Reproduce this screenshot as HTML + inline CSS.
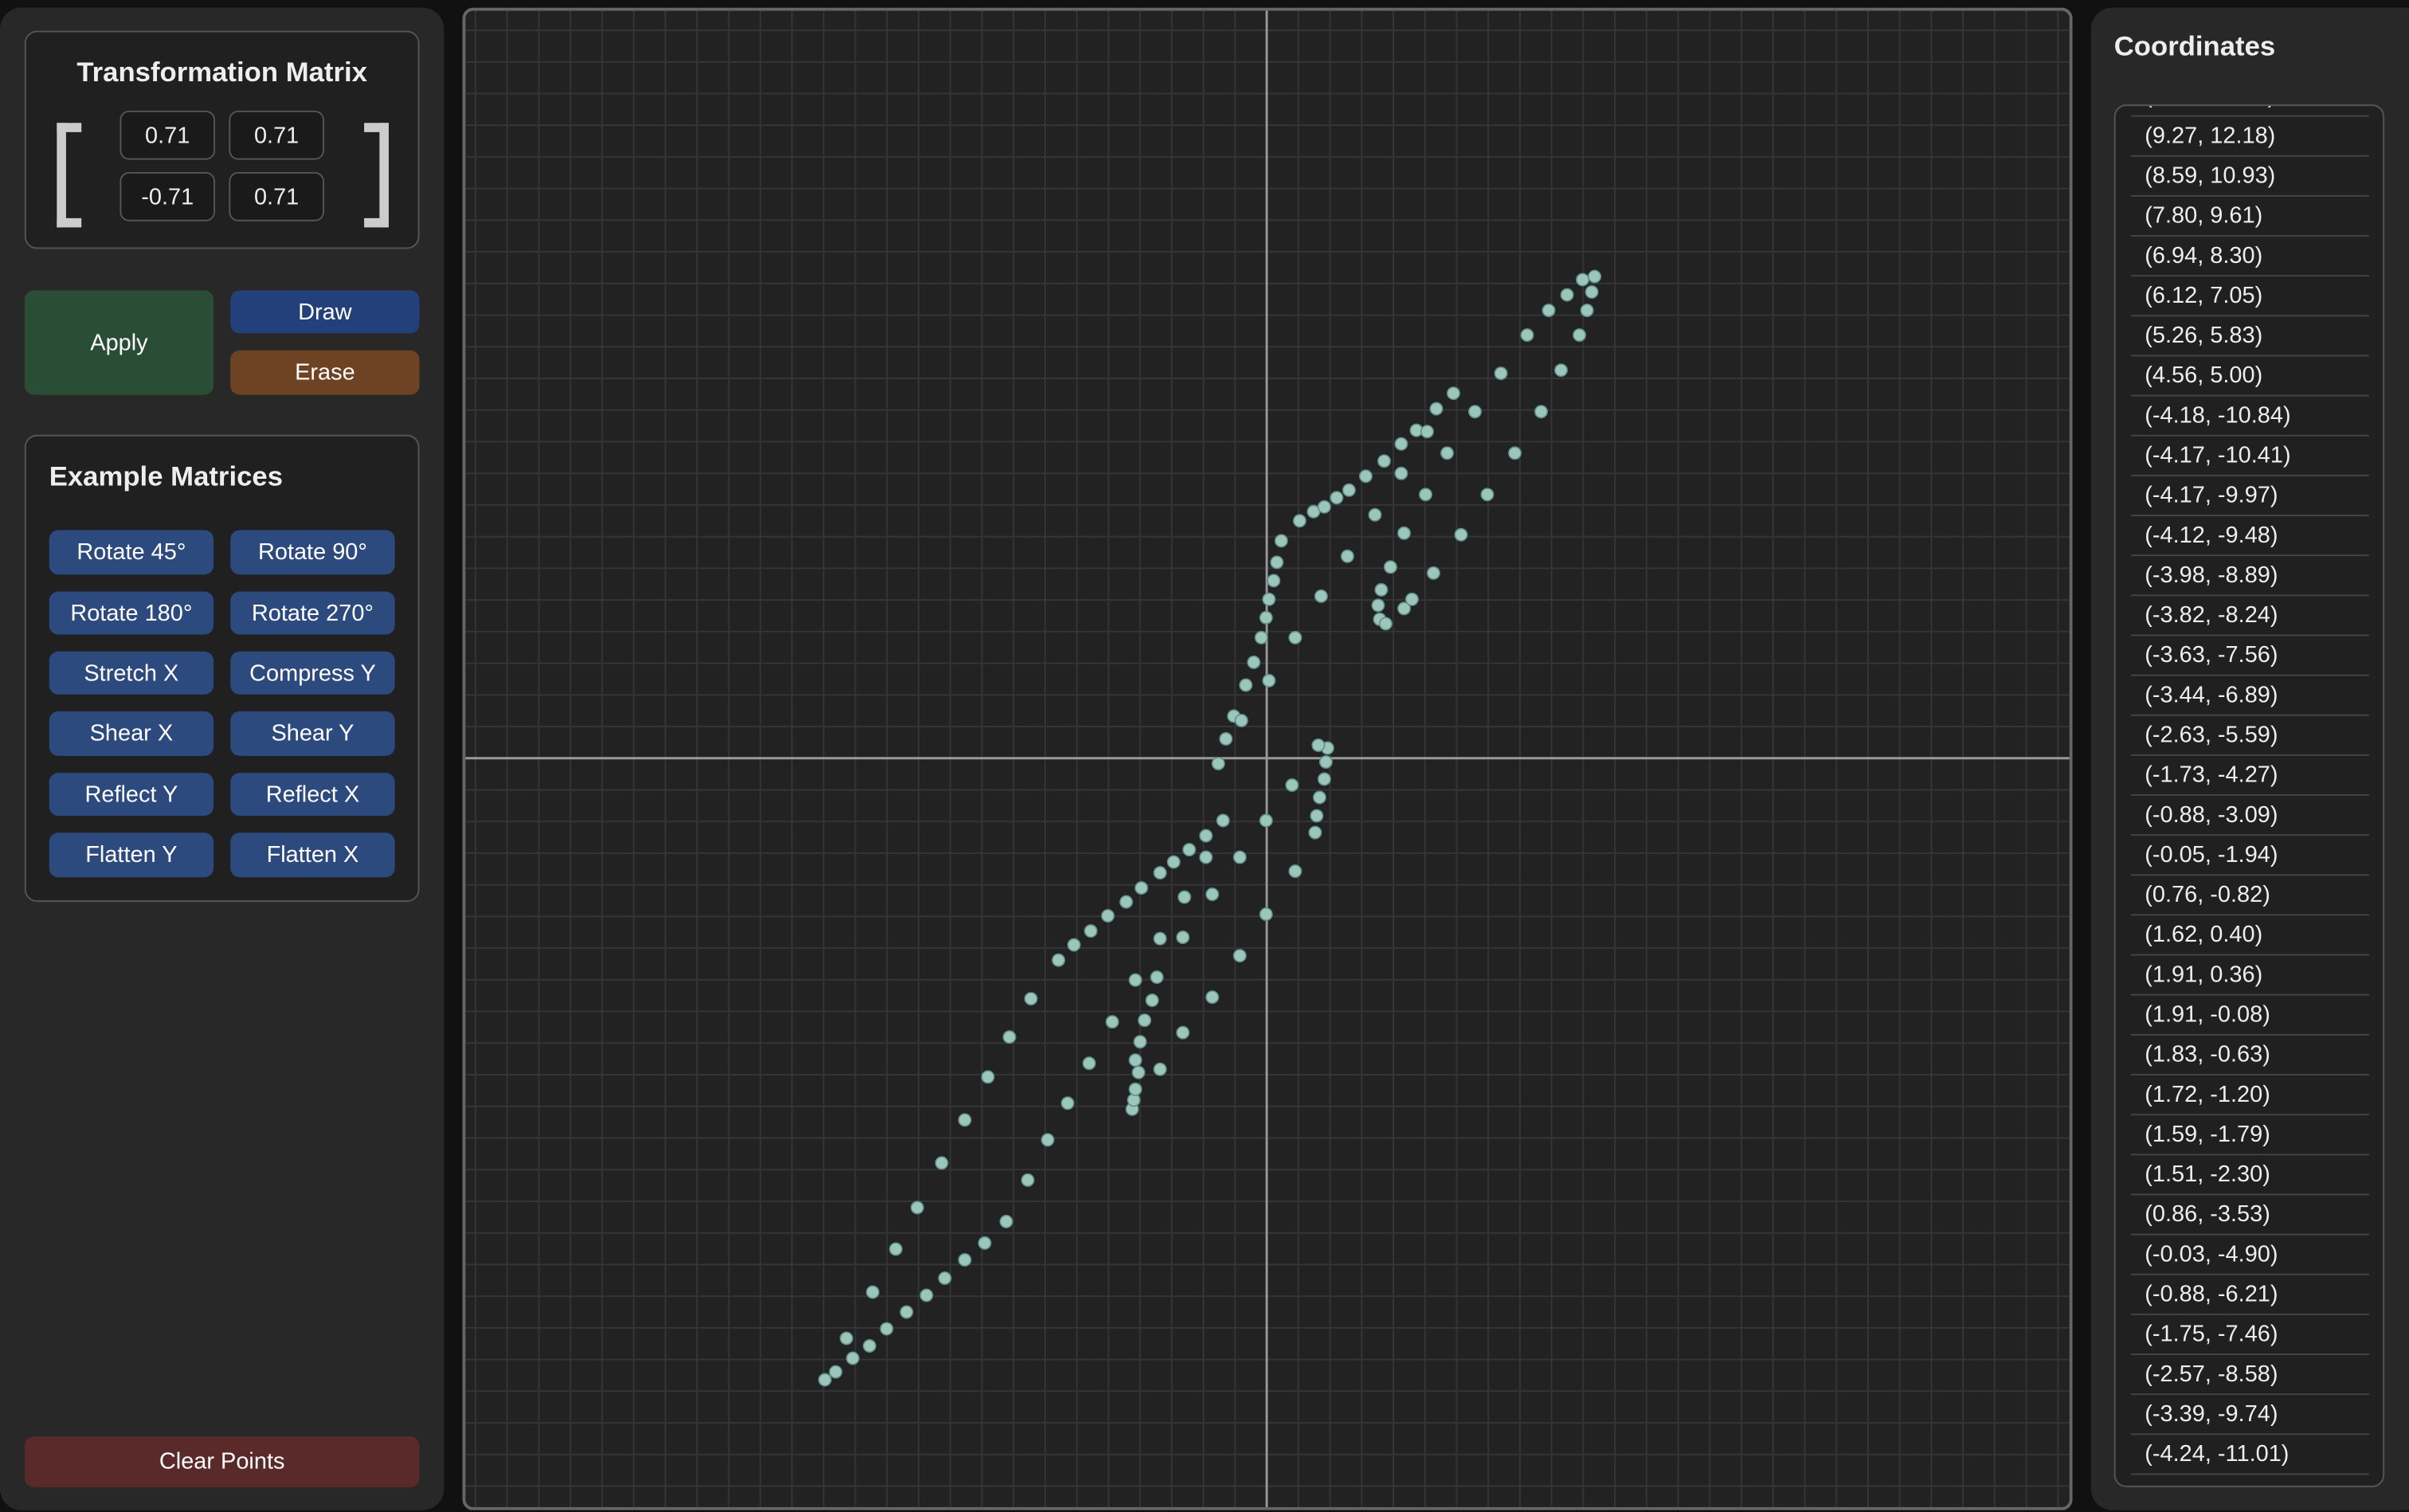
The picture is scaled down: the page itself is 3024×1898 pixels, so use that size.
<!DOCTYPE html>
<html><head><meta charset="utf-8">
<style>
html,body{margin:0;padding:0;background:#111;width:3024px;height:1898px;overflow:hidden;font-family:"Liberation Sans",Arial,sans-serif;}
#wrap{position:absolute;left:0;top:0;width:1568px;height:984px;transform:scale(1.92857);transform-origin:0 0;}
.abs{position:absolute;box-sizing:border-box;}
.panel{background:#282828;border-radius:14px;}
.box{background:#202020;border:1px solid #555;border-radius:8px;}
.btn{color:#fff;font-size:15px;display:flex;align-items:center;justify-content:center;border-radius:6px;}
.ex{background:#2c4a7e;}
.inp{background:#1a1a1a;border:1px solid #555;border-radius:6px;color:#eee;font-size:15px;display:flex;align-items:center;justify-content:center;width:62px;height:32px;}
.title{color:#eee;font-weight:bold;font-size:18px;}
.row{position:absolute;left:10px;width:155px;height:26px;border-bottom:1px solid #444;color:#eee;font-size:15px;line-height:26px;padding-left:9px;box-sizing:border-box;}
</style></head><body>
<div id="wrap">
<div class="abs panel" style="left:0;top:5px;width:289px;height:978px;"></div>
<div class="abs box" style="left:16px;top:20px;width:257px;height:142px;"></div>
<div class="abs title" style="left:16px;top:37px;width:257px;text-align:center;">Transformation Matrix</div>
<div class="abs" style="left:37px;top:80px;width:16px;height:68px;border:6px solid #ccc;border-right:none;"></div>
<div class="abs" style="left:237px;top:80px;width:16px;height:68px;border:6px solid #ccc;border-left:none;"></div>
<div class="abs inp" style="left:78px;top:72px;">0.71</div>
<div class="abs inp" style="left:149px;top:72px;">0.71</div>
<div class="abs inp" style="left:78px;top:112px;">-0.71</div>
<div class="abs inp" style="left:149px;top:112px;">0.71</div>
<div class="abs btn" style="left:16px;top:189px;width:123px;height:68px;background:#2a4d35;">Apply</div>
<div class="abs btn" style="left:150px;top:189px;width:123px;height:28px;background:#23407a;">Draw</div>
<div class="abs btn" style="left:150px;top:228px;width:123px;height:29px;background:#6e4323;">Erase</div>
<div class="abs box" style="left:16px;top:283px;width:257px;height:304px;"></div>
<div class="abs title" style="left:32px;top:300px;">Example Matrices</div>
<div class="abs btn ex" style="left:32px;top:345px;width:107px;height:29px;">Rotate 45°</div>
<div class="abs btn ex" style="left:150px;top:345px;width:107px;height:29px;">Rotate 90°</div>
<div class="abs btn ex" style="left:32px;top:385px;width:107px;height:28px;">Rotate 180°</div>
<div class="abs btn ex" style="left:150px;top:385px;width:107px;height:28px;">Rotate 270°</div>
<div class="abs btn ex" style="left:32px;top:424px;width:107px;height:28px;">Stretch X</div>
<div class="abs btn ex" style="left:150px;top:424px;width:107px;height:28px;">Compress Y</div>
<div class="abs btn ex" style="left:32px;top:463px;width:107px;height:29px;">Shear X</div>
<div class="abs btn ex" style="left:150px;top:463px;width:107px;height:29px;">Shear Y</div>
<div class="abs btn ex" style="left:32px;top:503px;width:107px;height:28px;">Reflect Y</div>
<div class="abs btn ex" style="left:150px;top:503px;width:107px;height:28px;">Reflect X</div>
<div class="abs btn ex" style="left:32px;top:542px;width:107px;height:29px;">Flatten Y</div>
<div class="abs btn ex" style="left:150px;top:542px;width:107px;height:29px;">Flatten X</div>
<div class="abs btn" style="left:16px;top:935px;width:257px;height:33px;background:#5a2a2a;">Clear Points</div>

<svg class="abs" id="plot" style="left:301px;top:5px;" width="1048" height="978" viewBox="0 0 1048 978">
<rect x="1" y="1" width="1046" height="976" rx="6" fill="#222" stroke="#666" stroke-width="2"/>
<g id="grid"></g><g id="axes"></g><g id="dots"></g>
</svg>

<div class="abs panel" style="left:1361px;top:5px;width:220px;height:978px;"></div>
<div class="abs title" style="left:1376px;top:20px;">Coordinates</div>
<div class="abs box" id="list" style="left:1376px;top:68px;width:176px;height:900px;overflow:hidden;"></div>
</div>
<script>
const xs=[-13.96,-13.62,-13.08,-13.28,-12.55,-12.01,-12.45,-11.38,-10.75,-11.72,-10.17,-9.54,-11.04,-8.91,-8.23,-10.27,-7.55,-9.54,-6.92,-8.81,-6.29,-8.13,-5.61,-7.45,-4.88,-6.58,-4.25,-4.20,-4.15,-4.05,-4.15,-4.00,-3.86,-3.62,-4.15,-3.47,-3.37,-2.65,-1.72,-0.85,-6.09,-5.56,-5.02,-4.44,-3.96,-3.37,-2.94,-2.45,-1.92,-1.38,-1.92,-0.85,-2.60,-1.72,-3.37,-2.65,-0.02,-0.02,0.90,0.80,1.53,1.58,1.67,1.82,1.87,1.92,1.63,-1.53,-1.29,-1.04,-0.80,-0.66,-0.41,-0.17,-0.02,0.07,0.22,0.32,0.46,0.07,0.90,1.04,1.48,1.82,2.21,2.60,3.13,3.71,4.25,4.73,5.07,5.36,5.90,6.58,5.70,4.25,3.42,2.55,1.72,5.02,4.34,3.91,3.62,3.52,3.57,3.76,4.34,4.59,5.27,6.14,6.97,7.84,8.67,9.30,9.88,10.12,10.27,10.36,9.98,9.49,8.91,8.23,7.40];
const ys=[-19.64,-19.39,-18.96,-18.33,-18.57,-18.03,-16.87,-17.50,-16.97,-15.51,-16.43,-15.85,-14.20,-15.32,-14.64,-12.79,-13.33,-11.43,-12.06,-10.07,-10.90,-8.81,-9.64,-7.60,-8.33,-6.38,-11.09,-10.80,-10.46,-9.93,-9.54,-8.96,-8.28,-7.65,-7.01,-6.92,-9.83,-8.67,-7.55,-6.24,-5.90,-5.46,-4.98,-4.54,-4.10,-3.62,-3.28,-2.89,-2.45,-1.97,-3.13,-3.13,-4.39,-4.30,-5.70,-5.66,-1.97,-4.93,-3.57,-0.85,-2.35,-1.82,-1.24,-0.66,-0.12,0.32,0.41,-0.17,0.61,1.33,1.19,2.31,3.03,3.81,4.44,5.02,5.61,6.19,6.87,2.45,3.81,7.50,7.79,7.94,8.23,8.47,8.91,9.39,9.93,10.36,10.32,11.04,11.53,10.95,9.64,9.00,7.69,6.38,5.12,8.33,7.11,6.04,5.32,4.83,4.39,4.25,4.73,5.02,5.85,7.06,8.33,9.64,10.95,12.26,13.37,14.15,14.73,15.22,15.12,14.64,14.15,13.37,12.16];
const coordLabels=["(9.99, 13.40)","(9.27, 12.18)","(8.59, 10.93)","(7.80, 9.61)","(6.94, 8.30)","(6.12, 7.05)","(5.26, 5.83)","(4.56, 5.00)","(-4.18, -10.84)","(-4.17, -10.41)","(-4.17, -9.97)","(-4.12, -9.48)","(-3.98, -8.89)","(-3.82, -8.24)","(-3.63, -7.56)","(-3.44, -6.89)","(-2.63, -5.59)","(-1.73, -4.27)","(-0.88, -3.09)","(-0.05, -1.94)","(0.76, -0.82)","(1.62, 0.40)","(1.91, 0.36)","(1.91, -0.08)","(1.83, -0.63)","(1.72, -1.20)","(1.59, -1.79)","(1.51, -2.30)","(0.86, -3.53)","(-0.03, -4.90)","(-0.88, -6.21)","(-1.75, -7.46)","(-2.57, -8.58)","(-3.39, -9.74)","(-4.24, -11.01)"];
const NS="http://www.w3.org/2000/svg";
const W=1048,H=978,OX=523.5,OY=488.5,UNIT=20.6;
function sx(v){return OX+v*UNIT;}
function sy(v){return OY-v*UNIT;}
const grid=document.getElementById('grid');
for(let k=-30;k<=30;k++){
  const x=sx(k); if(x>2&&x<W-2){const l=document.createElementNS(NS,'line');
  l.setAttribute('x1',x);l.setAttribute('x2',x);l.setAttribute('y1',2);l.setAttribute('y2',H-2);
  l.setAttribute('stroke','#353535');l.setAttribute('stroke-width','1');
  
  
  grid.appendChild(l);}
  const y=sy(k); if(y>2&&y<H-2){const l=document.createElementNS(NS,'line');
  l.setAttribute('y1',y);l.setAttribute('y2',y);l.setAttribute('x1',2);l.setAttribute('x2',W-2);
  l.setAttribute('stroke','#353535');l.setAttribute('stroke-width','1');
  
  
  grid.appendChild(l);}
}
const axes=document.getElementById('axes');
const ax=document.createElementNS(NS,'line');
ax.setAttribute('x1',2);ax.setAttribute('x2',W-2);ax.setAttribute('y1',sy(0));ax.setAttribute('y2',sy(0));
ax.setAttribute('stroke','#999');ax.setAttribute('stroke-width','1.5');


axes.appendChild(ax);
const ay=document.createElementNS(NS,'line');
ay.setAttribute('y1',2);ay.setAttribute('y2',H-2);ay.setAttribute('x1',sx(0));ay.setAttribute('x2',sx(0));
ay.setAttribute('stroke','#999');ay.setAttribute('stroke-width','1.5');


axes.appendChild(ay);
const dots=document.getElementById('dots');
for(let i=0;i<xs.length;i++){
  const c=document.createElementNS(NS,'circle');
  c.setAttribute('cx',sx(xs[i]));c.setAttribute('cy',sy(ys[i]));c.setAttribute('r',4);
  c.setAttribute('fill','#9cc5bb');c.setAttribute('stroke','#5f8f84');c.setAttribute('stroke-width','0.8');
  
  
  dots.appendChild(c);
}
const list=document.getElementById('list');
for(let i=0;i<coordLabels.length;i++){
  const r=document.createElement('div');
  r.className='row';
  r.style.top=(-19+i*26)+'px';
  r.textContent=coordLabels[i];
  
  
  list.appendChild(r);
}
</script>
</body></html>
